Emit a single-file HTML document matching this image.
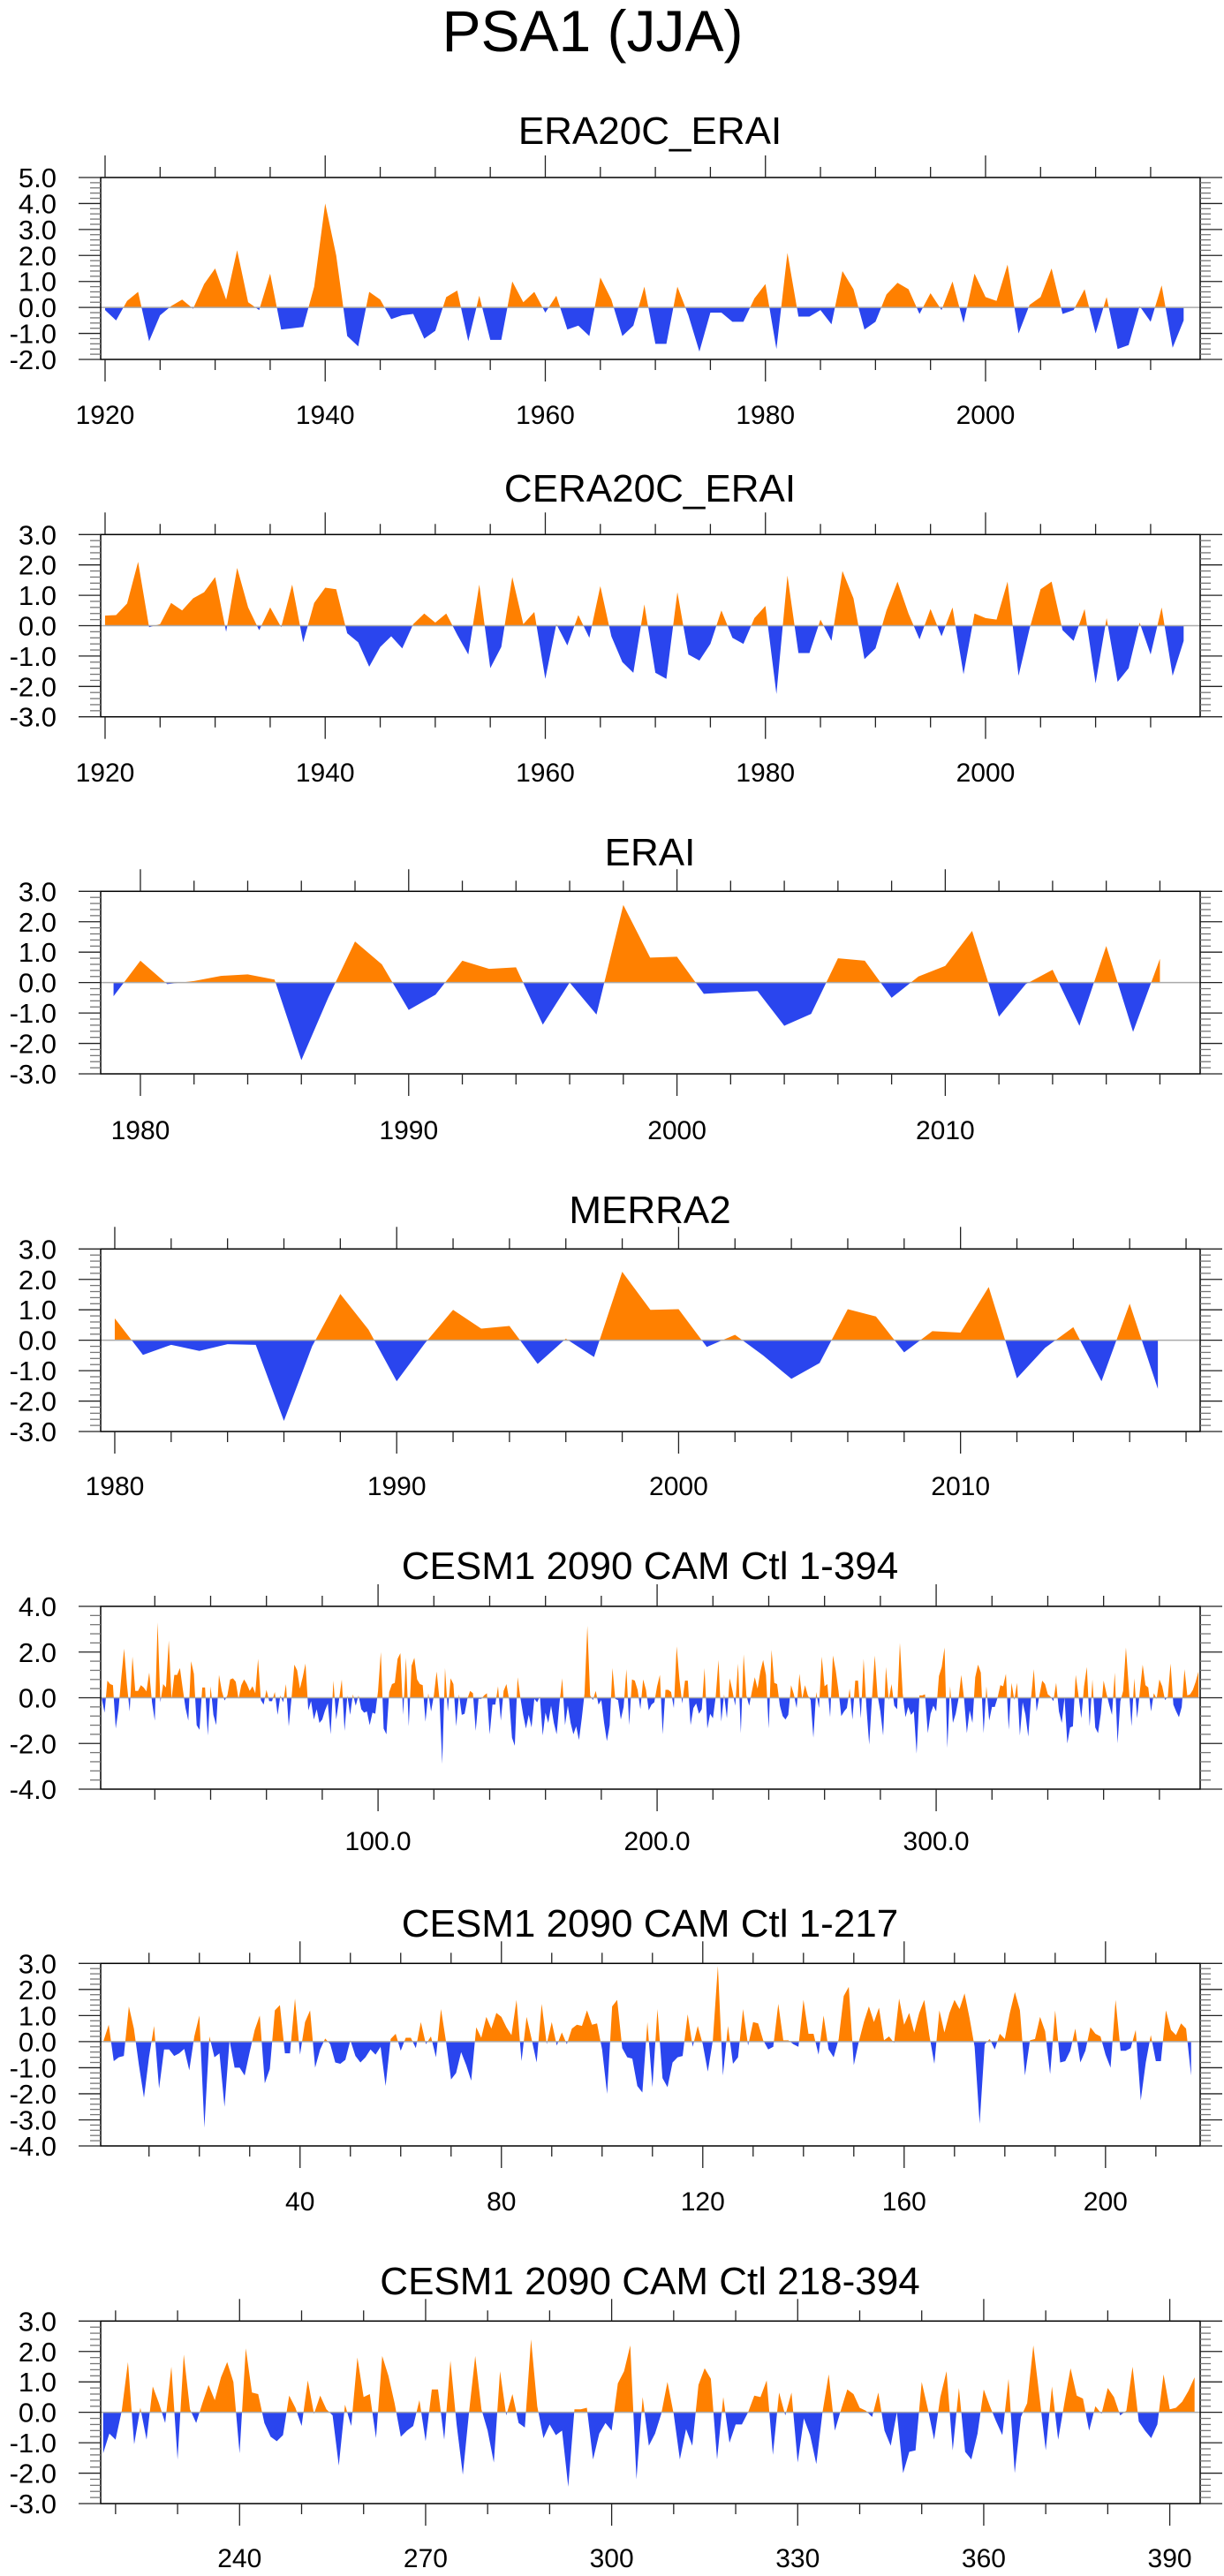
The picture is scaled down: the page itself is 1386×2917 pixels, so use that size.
<!DOCTYPE html>
<html><head><meta charset="utf-8"><title>PSA1 (JJA)</title>
<style>
html,body{margin:0;padding:0;background:#fff;}
svg{display:block;font-family:"Liberation Sans",Arial,sans-serif;}
</style></head>
<body>
<svg id="fig" width="1386" height="2917" viewBox="0 0 1386 2917" xmlns="http://www.w3.org/2000/svg">
<text x="671" y="58" font-size="66" text-anchor="middle" fill="#000">PSA1 (JJA)</text>
</svg>
<script>
// ---- data ----
const era20cStart = 1920;
const era20cValues = [-0.1,-0.5,0.25,0.6,-1.3,-0.3,0.05,0.3,-0.05,0.9,1.5,0.3,2.2,0.2,-0.1,1.3,-0.85,-0.8,-0.75,0.8,4.0,2.0,-1.1,-1.5,0.6,0.3,-0.45,-0.3,-0.25,-1.2,-0.9,0.4,0.65,-1.3,0.45,-1.25,-1.25,1.0,0.2,0.6,-0.2,0.45,-0.85,-0.7,-1.1,1.15,0.3,-1.1,-0.7,0.8,-1.4,-1.4,0.8,-0.3,-1.7,-0.2,-0.2,-0.55,-0.55,0.35,0.9,-1.6,2.1,-0.35,-0.35,-0.1,-0.65,1.4,0.7,-0.85,-0.55,0.5,0.95,0.7,-0.25,0.55,-0.1,1.0,-0.6,1.3,0.4,0.25,1.65,-1.0,0.1,0.4,1.5,-0.25,-0.1,0.7,-1.0,0.4,-1.6,-1.45,0.05,-0.55,0.85,-1.55,-0.5];
const cera20cStart = 1920;
const cera20cValues = [0.33,0.35,0.73,2.1,-0.05,0.05,0.75,0.5,0.9,1.1,1.6,-0.2,1.9,0.6,-0.15,0.6,-0.05,1.35,-0.55,0.75,1.25,1.2,-0.25,-0.55,-1.35,-0.7,-0.35,-0.75,0.05,0.4,0.1,0.4,-0.3,-0.95,1.35,-1.4,-0.7,1.6,0.05,0.45,-1.75,0.05,-0.65,0.35,-0.4,1.3,-0.35,-1.2,-1.55,0.7,-1.55,-1.75,1.1,-0.95,-1.15,-0.6,0.5,-0.4,-0.6,0.25,0.65,-2.25,1.65,-0.9,-0.9,0.2,-0.5,1.8,0.9,-1.1,-0.75,0.5,1.45,0.4,-0.45,0.55,-0.35,0.6,-1.6,0.4,0.25,0.2,1.45,-1.65,-0.1,1.2,1.45,-0.15,-0.5,0.55,-1.9,0.25,-1.85,-1.4,0.1,-0.95,0.6,-1.65,-0.5];
const eraiStart = 1979;
const eraiValues = [-0.45,0.72,-0.05,0.05,0.22,0.27,0.1,-2.55,-0.5,1.35,0.6,-0.9,-0.4,0.72,0.45,0.5,-1.38,0.0,-1.05,2.55,0.82,0.85,-0.37,-0.32,-0.28,-1.42,-1.03,0.8,0.72,-0.5,0.2,0.55,1.7,-1.12,-0.05,0.42,-1.42,1.2,-1.62,0.78];
const merra2Start = 1980;
const merra2Values = [0.72,-0.48,-0.15,-0.35,-0.13,-0.15,-2.65,-0.2,1.52,0.35,-1.35,-0.1,1.0,0.38,0.47,-0.78,0.05,-0.55,2.25,1.0,1.02,-0.22,0.18,-0.5,-1.27,-0.75,1.02,0.78,-0.4,0.3,0.25,1.75,-1.25,-0.25,0.43,-1.35,1.2,-1.6];
const cesmAStart = 1;
const cesmAValues = [0.05,0.65,-0.75,-0.6,-0.55,1.35,0.5,-0.9,-2.15,-0.6,
0.6,-1.8,-0.3,-0.3,-0.55,-0.45,-0.28,-1.1,0.2,1.0,
-3.3,0.2,-0.6,-0.45,-2.5,0.05,-1.0,-1.0,-1.3,-0.4,
0.45,1.0,-1.6,-1.05,1.2,1.4,-0.45,-0.45,1.65,-0.5,
0.75,1.2,-1.0,-0.3,0.12,-0.1,-0.8,-0.85,-0.7,0.05,
-0.55,-0.8,-0.6,-0.3,-0.5,-0.2,-1.7,0.1,0.3,-0.35,
0.15,0.15,-0.25,0.75,-0.1,0.2,-0.6,1.25,0.0,-1.45,
-1.2,-0.4,-0.9,-1.5,0.55,0.15,0.95,0.5,1.1,0.95,
0.55,0.25,1.6,-0.75,0.95,0.1,-0.8,1.45,-0.1,0.75,
-0.15,0.35,-0.1,0.5,0.65,0.6,1.2,0.65,0.7,-0.3,
-2.0,1.35,1.6,-0.25,-0.6,-0.65,-1.7,-1.95,0.75,-1.75,
1.25,-1.4,-1.75,-0.8,-0.6,-0.55,1.05,-0.2,0.6,-0.1,
-1.15,0.05,2.9,-1.3,0.6,-0.85,-0.6,1.25,-0.15,0.75,
0.7,0.05,-0.3,-0.2,1.45,0.05,0.05,-0.1,-0.2,1.6,
0.3,0.3,-0.5,1.0,-0.3,-0.6,0.1,1.75,2.1,-0.9,
0.0,0.75,1.35,0.75,1.3,0.05,0.2,-0.05,1.65,0.65,
1.1,0.35,1.1,1.6,0.25,-0.85,1.2,0.35,1.1,1.6,
1.25,1.85,0.9,-0.2,-3.15,-0.1,0.1,-0.3,0.3,0.1,
1.1,1.9,1.2,-1.3,0.05,0.1,0.95,0.4,-1.25,1.2,
-0.8,-0.75,-0.35,0.5,-0.8,-0.35,0.55,0.3,0.2,-0.5,
-1.0,1.6,-0.35,-0.35,-0.25,0.45,-2.25,-0.8,0.25,-0.75,
-0.75,1.2,0.45,0.25,0.7,0.5,-1.3];
const cesmBStart = 218;
const cesmBValues = [-1.35,-0.7,-0.9,0.05,1.65,-1.05,0.15,-0.9,0.85,0.3,
-0.35,1.5,-1.55,1.9,0.1,-0.35,0.3,0.9,0.4,1.15,
1.65,1.0,-1.35,2.1,0.65,0.6,-0.35,-0.8,-0.95,-0.75,
0.55,0.15,-0.45,1.05,-0.05,0.55,0.1,-0.1,-1.75,0.25,
-0.45,1.8,0.5,0.6,-0.85,1.85,1.2,0.3,-0.8,-0.6,
-0.45,0.4,-0.95,0.75,0.75,-0.9,1.7,-0.4,-2.05,0.0,
1.85,0.1,-0.6,-1.65,1.35,-0.1,0.6,-0.35,-0.5,2.4,
0.2,-0.85,-0.4,-0.75,-0.6,-2.45,0.1,0.1,0.15,-1.55,
-0.7,-0.35,-0.6,0.95,1.35,2.2,-2.2,0.5,-1.1,-0.7,
-0.05,1.0,-0.05,-1.55,-0.55,-1.1,0.9,1.45,1.1,-1.55,
0.5,-1.0,-0.4,-0.4,0.0,0.55,0.5,1.05,-1.4,0.65,
-0.1,0.65,-1.65,-0.2,-0.75,-1.7,0.0,1.25,-0.6,0.1,
0.75,0.6,0.15,0.05,-0.15,0.65,-0.6,-1.1,0.0,-2.0,
-1.3,-1.25,1.0,0.1,-0.9,0.5,1.35,-1.25,0.8,-1.3,
-1.55,-0.7,0.75,0.2,-0.3,-0.75,1.1,-2.0,-0.15,0.3,
2.2,0.5,-1.25,0.85,-0.9,0.3,1.45,0.55,0.45,-0.6,
0.2,-0.05,0.8,0.5,-0.1,0.05,1.5,-0.3,-0.6,-0.85,
-0.4,1.25,0.1,0.15,0.35,0.7,1.15];
const cesmAllStart = 1;
// full-run panel: first segment has opposite sign convention
const cesmAllValues = cesmAValues.map(v => -v).concat(cesmBValues);

const panelTitles = ["ERA20C_ERAI","CERA20C_ERAI","ERAI","MERRA2","CESM1 2090 CAM Ctl 1-394","CESM1 2090 CAM Ctl 1-217","CESM1 2090 CAM Ctl 218-394"];

// ---- layout ----
const NS = "http://www.w3.org/2000/svg";
const svg = document.getElementById('fig');
const L = 114, R = 1359;
const ORANGE = "#ff8000", BLUE = "#2a45ee";

function mk(tag, attrs, parent){
  const e = document.createElementNS(NS, tag);
  for (const k in attrs) e.setAttribute(k, attrs[k]);
  (parent||svg).appendChild(e);
  return e;
}

const panels = [
 {key:"era20c", title:panelTitles[0], start:era20cStart, vals:era20cValues, top:201, bot:407, ymin:-2, ymax:5, xmin:1919.6, xmax:2019.5, tb:163, lb:480, xmaj:20, xmin2:5, ystep:1, yminor:0.2, fmt:v=>String(v)},
 {key:"cera20c", title:panelTitles[1], start:cera20cStart, vals:cera20cValues, top:605.3, bot:811.7, ymin:-3, ymax:3, xmin:1919.6, xmax:2019.5, tb:568, lb:885, xmaj:20, xmin2:5, ystep:1, yminor:0.2, fmt:v=>String(v)},
 {key:"erai", title:panelTitles[2], start:eraiStart, vals:eraiValues, top:1009.3, bot:1216, ymin:-3, ymax:3, xmin:1978.52, xmax:2019.5, tb:980, lb:1290, xmaj:10, xmin2:2, ystep:1, yminor:0.2, fmt:v=>String(v)},
 {key:"merra2", title:panelTitles[3], start:merra2Start, vals:merra2Values, top:1414.3, bot:1621, ymin:-3, ymax:3, xmin:1979.5, xmax:2018.5, tb:1385, lb:1693, xmaj:10, xmin2:2, ystep:1, yminor:0.2, fmt:v=>String(v)},
 {key:"cesm-all", title:panelTitles[4], start:cesmAllStart, vals:cesmAllValues, top:1819, bot:2026, ymin:-4, ymax:4, xmin:0.6, xmax:394.6, tb:1788, lb:2095, xmaj:100, xmin2:20, ystep:2, yminor:0.4, fmt:v=>v.toFixed(1)},
 {key:"cesm-1-217", title:panelTitles[5], start:cesmAStart, vals:cesmAValues, top:2223.3, bot:2430, ymin:-4, ymax:3, xmin:0.4, xmax:218.8, tb:2193, lb:2503, xmaj:40, xmin2:10, ystep:1, yminor:0.2, fmt:v=>String(v)},
 {key:"cesm-218-394", title:panelTitles[6], start:cesmBStart, vals:cesmBValues, top:2628.3, bot:2835, ymin:-3, ymax:3, xmin:217.6, xmax:394.9, tb:2598, lb:2907, xmaj:30, xmin2:10, ystep:1, yminor:0.2, fmt:v=>String(v)}
];

panels.forEach((p, pi) => {
  const g = mk('g', {});
  
  
  const xs = v => L + (v - p.xmin) / (p.xmax - p.xmin) * (R - L);
  const ys = v => p.top + (p.ymax - v) / (p.ymax - p.ymin) * (p.bot - p.top);

  const t = mk('text', {x:736, y:p.tb, 'font-size':44, 'text-anchor':'middle', fill:'#000'}, g);
  t.textContent = p.title;
  
  

  const y0 = ys(0);
  let d = "M" + xs(p.start).toFixed(2) + "," + y0.toFixed(2);
  p.vals.forEach((v, i) => { d += " L" + xs(p.start + i).toFixed(2) + "," + ys(v).toFixed(2); });
  d += " L" + xs(p.start + p.vals.length - 1).toFixed(2) + "," + y0.toFixed(2) + " Z";
  const defs = mk('defs', {}, g);
  const cu = mk('clipPath', {id:'cu' + pi}, defs);
  mk('rect', {x:L, y:p.top, width:R-L, height:y0-p.top}, cu);
  const cd = mk('clipPath', {id:'cd' + pi}, defs);
  mk('rect', {x:L, y:y0, width:R-L, height:p.bot-y0}, cd);
  const pos = mk('path', {d:d, fill:ORANGE, 'clip-path':'url(#cu' + pi + ')'}, g);
  
  
  const neg = mk('path', {d:d, fill:BLUE, 'clip-path':'url(#cd' + pi + ')'}, g);
  
  
  const zl = mk('line', {x1:L, x2:R, y1:y0, y2:y0, stroke:'#aaa', 'stroke-width':1.5}, g);
  
  

  const fr = mk('rect', {x:L, y:p.top, width:R-L, height:p.bot-p.top, fill:'none', stroke:'#000', 'stroke-width':1.5}, g);
  
  

  const first = Math.ceil(p.xmin / p.xmin2) * p.xmin2;
  for (let v = first; v <= p.xmax + 1e-9; v += p.xmin2) {
    const x = xs(v);
    const major = Math.abs(v / p.xmaj - Math.round(v / p.xmaj)) < 1e-6;
    const len = major ? 25 : 12;
    mk('line', {x1:x, x2:x, y1:p.top - len, y2:p.top, stroke:'#222', 'stroke-width':1.3}, g);
    mk('line', {x1:x, x2:x, y1:p.bot, y2:p.bot + len, stroke:'#222', 'stroke-width':1.3}, g);
    if (major) {
      const lab = mk('text', {x:x, y:p.lb, 'font-size':30, 'text-anchor':'middle', fill:'#000'}, g);
      lab.textContent = p.fmt(v);
      
      
    }
  }
  const nMinor = Math.round((p.ymax - p.ymin) / p.yminor);
  for (let k = 0; k <= nMinor; k++) {
    const v = p.ymin + k * p.yminor;
    const y = ys(v);
    const major = Math.abs(v / p.ystep - Math.round(v / p.ystep)) < 1e-6;
    const len = major ? 25 : 12;
    mk('line', {x1:L - len, x2:L, y1:y, y2:y, stroke: major ? '#222' : '#777', 'stroke-width':1.3}, g);
    mk('line', {x1:R, x2:R + len, y1:y, y2:y, stroke: major ? '#222' : '#777', 'stroke-width':1.3}, g);
    if (major) {
      const lab = mk('text', {x:64, y:y + 11, 'font-size':31, 'text-anchor':'end', fill:'#000'}, g);
      lab.textContent = (Math.round(v * 10) / 10).toFixed(1);
      
      
    }
  }
});
</script>
</body></html>
